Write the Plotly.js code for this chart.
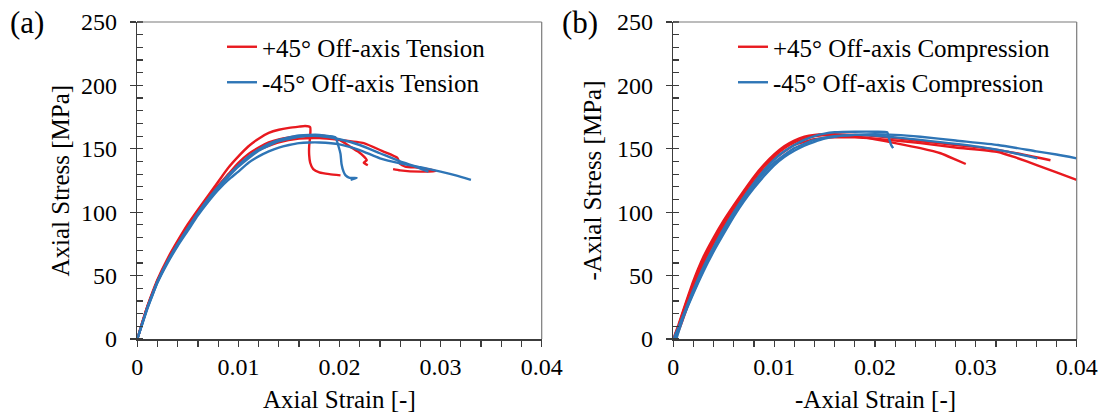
<!DOCTYPE html>
<html><head><meta charset="utf-8">
<script src="https://cdn.plot.ly/plotly-3.0.1.min.js"></script>
<style>html,body{margin:0;padding:0;background:#fff}#chart{width:1104px;height:413px}</style>
</head><body><div id="chart"></div>
<script>
// ---------- (a) Tension ----------
const tenPos1Strain = [0,0.0005,0.001,0.0015,0.002,0.003,0.004,0.005,0.006,0.007,0.008,0.009,0.010,0.011,0.012,0.013,0.014,0.015,0.016,0.0166,0.0171,0.0171,0.0170,0.0170,0.0171,0.0174,0.0180,0.0190,0.0201];
const tenPos1Stress = [0,13.5,26,37,47,63.5,77.5,90.5,102,113,124,135,144,152,158,162.5,165,166.5,167.5,168,167,160,152,145,139,134,131.5,130,129];
const tenPos2Strain = [0,0.0005,0.001,0.0015,0.002,0.003,0.004,0.005,0.006,0.007,0.008,0.009,0.010,0.011,0.012,0.013,0.014,0.015,0.016,0.018,0.019,0.020,0.021,0.0218,0.0224,0.0227,0.0224,0.0228];
const tenPos2Stress = [0,13,25.5,36,46,62,75.5,88.5,100,111,121,130,139,146,151,155,157.5,159,160,160.5,159.5,157,152,148,144,141,139,137];
const tenPos3Strain = [0,0.0005,0.001,0.0015,0.002,0.003,0.004,0.005,0.006,0.007,0.008,0.009,0.010,0.012,0.014,0.016,0.018,0.020,0.0224,0.0243,0.0257,0.026,0.0265,0.028,0.029,0.0295,0.028,0.026,0.0253];
const tenPos3Stress = [0,13,25.5,36,46,62,75.5,88,100,110,120,129,137,149,155,158,158.5,157,154.5,148,143,138,136,135,133.5,132.5,132,133,134];
const tenNeg1Strain = [0,0.0005,0.001,0.0015,0.002,0.003,0.004,0.005,0.006,0.007,0.008,0.009,0.010,0.011,0.012,0.013,0.014,0.015,0.016,0.017,0.018,0.019,0.0196,0.0199,0.0201,0.0202,0.0204,0.0206,0.021,0.0217,0.0211];
const tenNeg1Stress = [0,12.5,25,35.5,45.5,61.5,75,87.5,99.5,110.5,120,129,137,144,149.5,154,157,159,160.5,161,161,160,159,152,146,138,132,129,127,127,125.5];
const tenNeg2Strain = [0,0.0005,0.001,0.0015,0.002,0.003,0.004,0.005,0.006,0.007,0.008,0.009,0.010,0.012,0.014,0.016,0.018,0.020,0.022,0.024,0.026,0.0275,0.0288];
const tenNeg2Stress = [0,12.5,24.5,35,45,61,74.5,87,99,110,119.5,128,136,148.5,156,159.5,160,157.5,153,146.5,140,136,132];
const tenNeg3Strain = [0,0.0005,0.001,0.0015,0.002,0.003,0.004,0.005,0.006,0.007,0.008,0.009,0.010,0.011,0.012,0.013,0.014,0.015,0.016,0.017,0.018,0.020,0.022,0.024,0.026,0.028,0.030,0.0315,0.033];
const tenNeg3Stress = [0,12,24,34.5,44.5,60,73.5,85.5,97.5,108,117.5,125.5,132,139,144,148,151,153,154.5,155,155,153.5,149,142.5,138.5,135.5,132,129,125.5];

// ---------- (b) Compression ----------
const comPos1Strain = [0,0.0005,0.001,0.002,0.003,0.004,0.005,0.006,0.007,0.008,0.009,0.010,0.011,0.012,0.013,0.014,0.015,0.016,0.018,0.020,0.022,0.0245,0.0265,0.028,0.029];
const comPos1Stress = [0,11,23,46,65,80,93.5,105.5,117,128,137.5,145.5,152,156.5,159.5,161,161.5,161.5,160,157.5,154.5,150.5,146.5,141.5,138];
const comPos2Strain = [0,0.0005,0.001,0.002,0.003,0.004,0.005,0.006,0.007,0.008,0.009,0.010,0.011,0.012,0.013,0.014,0.016,0.018,0.020,0.022,0.0245,0.028,0.031,0.034,0.0374];
const comPos2Stress = [0,10,22,44,63,78,91.5,104,115.5,126.5,136,144,150.5,155,158,160,161,161,160,158.5,156,153,150.5,146.5,141];
const comPos3Strain = [0.0002,0.0007,0.0012,0.002,0.003,0.004,0.005,0.006,0.007,0.008,0.009,0.010,0.012,0.014,0.016,0.018,0.020,0.022,0.0245,0.028,0.0322,0.034,0.0361,0.038,0.040];
const comPos3Stress = [0,10,21,41,60,75.5,89,101.5,113,124,133.5,142,153,157.5,159,159,158,156.5,154.5,151,147.5,143,137,131.5,125.5];
const comNeg1Strain = [0,0.0005,0.001,0.002,0.003,0.004,0.005,0.006,0.007,0.008,0.009,0.010,0.011,0.012,0.013,0.014,0.015,0.016,0.018,0.020,0.0212,0.0214,0.0216,0.0218];
const comNeg1Stress = [0,9,19,39,57,72.5,87,100,112,123,133,141.5,148,153,157,160,162,163,163.5,163.5,163,158,153,150.5];
const comNeg2Strain = [0.0003,0.001,0.002,0.003,0.004,0.005,0.006,0.007,0.008,0.009,0.010,0.011,0.012,0.013,0.014,0.015,0.016,0.018,0.020,0.022,0.0245,0.028,0.0322,0.036,0.038,0.040];
const comNeg2Stress = [0,17,36,53.5,69,83,96.5,108.5,119,128.5,137,143.5,148.5,152.5,155.5,158,159.5,161,161.5,161,159.5,156.5,153,148,145.5,142.5];
const comNeg3Strain = [0.0001,0.001,0.002,0.003,0.004,0.005,0.006,0.007,0.008,0.009,0.010,0.012,0.014,0.016,0.018,0.020,0.022,0.0245,0.0302,0.033,0.0361];
const comNeg3Stress = [0,18,37,55,70.5,85,98,110,121,131,139,150.5,157,160,161,160.5,159,157,151.7,148,142.5];

const seriesNames = ["+45° Off-axis Tension","-45° Off-axis Tension","+45° Off-axis Compression","-45° Off-axis Compression"];
const xTickVals = [0,0.01,0.02,0.03,0.04];
const yTickVals = [0,50,100,150,200,250];

const RED = '#e8191f', BLUE = '#2e75b6';
const FONT = '"Liberation Serif","Times New Roman",serif';

function tr(x, y, name, color, xa, ya, leg, show) {
  return {type:'scatter', mode:'lines', x:x, y:y, name:name, xaxis:xa, yaxis:ya,
    legend:leg, legendgroup:name, showlegend:show,
    line:{color:color, width:2.4, shape:'spline', smoothing:0.5}, hoverinfo:'skip'};
}
const data = [
  tr(tenPos1Strain, tenPos1Stress, seriesNames[0], RED, 'x','y','legend', true),
  tr(tenPos2Strain, tenPos2Stress, seriesNames[0], RED, 'x','y','legend', false),
  tr(tenPos3Strain, tenPos3Stress, seriesNames[0], RED, 'x','y','legend', false),
  tr(tenNeg1Strain, tenNeg1Stress, seriesNames[1], BLUE, 'x','y','legend', true),
  tr(tenNeg2Strain, tenNeg2Stress, seriesNames[1], BLUE, 'x','y','legend', false),
  tr(tenNeg3Strain, tenNeg3Stress, seriesNames[1], BLUE, 'x','y','legend', false),
  tr(comPos1Strain, comPos1Stress, seriesNames[2], RED, 'x2','y2','legend2', true),
  tr(comPos2Strain, comPos2Stress, seriesNames[2], RED, 'x2','y2','legend2', false),
  tr(comPos3Strain, comPos3Stress, seriesNames[2], RED, 'x2','y2','legend2', false),
  tr(comNeg1Strain, comNeg1Stress, seriesNames[3], BLUE, 'x2','y2','legend2', true),
  tr(comNeg2Strain, comNeg2Stress, seriesNames[3], BLUE, 'x2','y2','legend2', false),
  tr(comNeg3Strain, comNeg3Stress, seriesNames[3], BLUE, 'x2','y2','legend2', false)
];

const W = 1104, H = 413;
const px = v => v / W, py = v => (H - v) / H;
const AX = '#3c3c3c';
const yDom = [py(339), py(22)];
function xAxis(dom, anchor) {
  return {domain:dom, anchor:anchor, range:[0,0.04], tickvals:xTickVals, ticks:'outside', ticklen:6, tickwidth:1.3, tickcolor:AX,
    showline:true, linecolor:AX, linewidth:1.6, showgrid:false, zeroline:false, ticklabelstandoff:0,
    tickfont:{family:FONT, size:24, color:'#000'},
    minor:{dtick:0.002, ticks:'outside', ticklen:6, tickcolor:AX, tickwidth:1.2, showgrid:false}};
}
function xOverlay(base, anchor, dom) {
  return {overlaying:base, anchor:anchor, domain:dom, range:[0,0.04], tickvals:xTickVals, ticks:'inside', ticklen:7, tickwidth:1.3,
    tickcolor:AX, showticklabels:false, showline:false, showgrid:false, zeroline:false};
}
function yAxis(anchor) {
  return {domain:yDom, anchor:anchor, range:[0,250], tickvals:yTickVals, ticks:'outside', ticklen:6, tickwidth:1.3, tickcolor:AX,
    showline:true, linecolor:AX, linewidth:1.6, showgrid:false, zeroline:false, ticklabelstandoff:8,
    tickfont:{family:FONT, size:24, color:'#000'},
    minor:{dtick:10, ticks:'inside', ticklen:6, tickcolor:AX, tickwidth:1.2, showgrid:false}};
}
const xDom1 = [px(137.3), px(541.7)], xDom2 = [px(673.3), px(1076.7)];
function frame(xr, yr) {
  return [
    {type:'line', xref:xr+' domain', yref:yr+' domain', x0:0, x1:1, y0:1, y1:1, line:{color:'#7a7a7a', width:1.2}},
    {type:'line', xref:xr+' domain', yref:yr+' domain', x0:1, x1:1, y0:0, y1:1, line:{color:'#7a7a7a', width:1.2}}
  ];
}
function ann(text, x, y, size, angle) {
  return {text:text, xref:'paper', yref:'paper', x:x, y:y, xanchor:'center', yanchor:'middle', showarrow:false,
    textangle:angle||0, font:{family:FONT, size:size, color:'#000'}};
}
const legendBase = {xanchor:'left', yanchor:'top', bgcolor:'rgba(0,0,0,0)', borderwidth:0,
  font:{family:FONT, size:25, color:'#000'}, tracegroupgap:0, itemwidth:30};

const layout = {
  width:W, height:H, margin:{l:0, r:0, t:0, b:0}, paper_bgcolor:'#fff', plot_bgcolor:'#fff',
  showlegend:true,
  xaxis: xAxis(xDom1, 'y'), yaxis: yAxis('x'),
  xaxis2: xAxis(xDom2, 'y2'), yaxis2: yAxis('x2'),
  xaxis3: xOverlay('x', 'y', xDom1), xaxis4: xOverlay('x2', 'y2', xDom2),
  legend: Object.assign({x:px(222), y:py(24)}, legendBase),
  legend2: Object.assign({x:px(733), y:py(24)}, legendBase),
  shapes: frame('x','y').concat(frame('x2','y2')),
  annotations: [
    ann('(a)', px(27), py(22), 31),
    ann('(b)', px(580), py(22), 31),
    ann('Axial Stress [MPa]', px(60), py(180.5), 25, -90),
    ann('-Axial Stress [MPa]', px(592), py(180.5), 25, -90),
    ann('Axial Strain [-]', px(339.5), py(399), 25),
    ann('-Axial Strain [-]', px(875), py(399), 25)
  ]
};
Plotly.newPlot('chart', data, layout, {staticPlot:true, displayModeBar:false});
</script></body></html>
